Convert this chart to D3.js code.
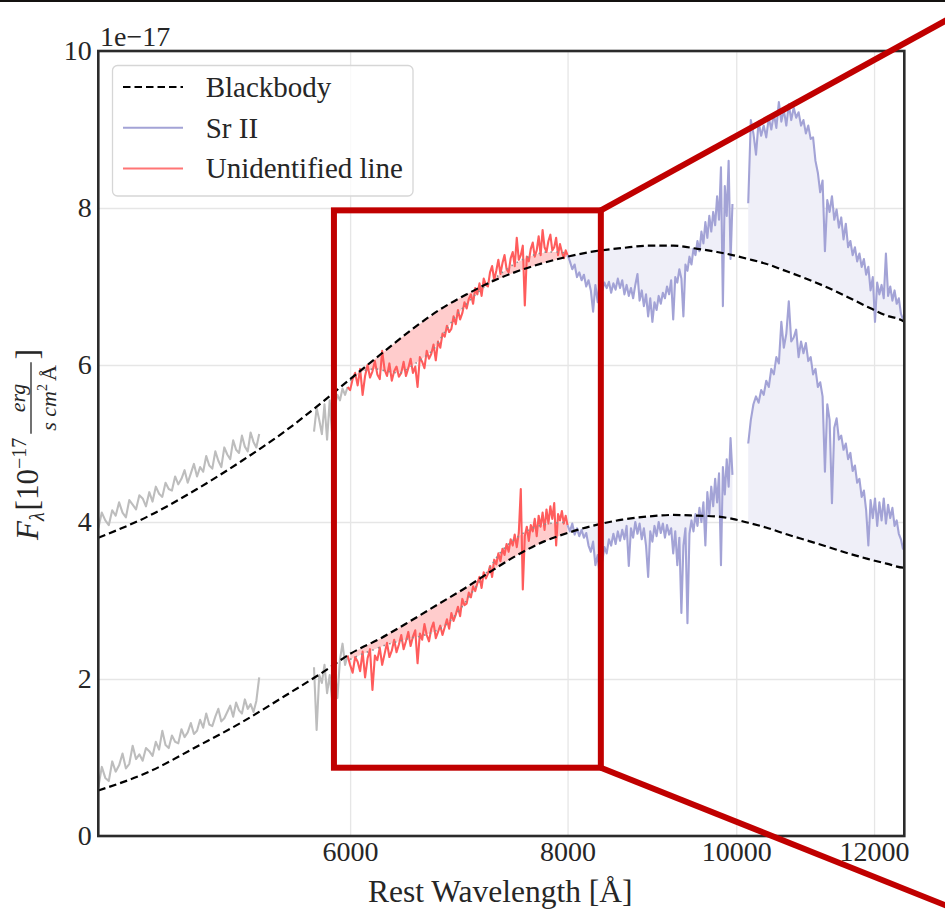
<!DOCTYPE html>
<html>
<head>
<meta charset="utf-8">
<script src="https://cdn.jsdelivr.net/npm/d3@7"></script>
<style>
  body { margin: 0; background: #fff; }
  svg text { font-family: "Liberation Serif", "Times New Roman", serif; fill: #262626; }
</style>
</head>
<body>
<div id="spec"></div>
<script>
// ---- data (flux in units of 1e-17) ----
const bbWave  = [4300,4600,4900,5200,5500,5800,6000,6250,6500,6750,7000,7250,7500,7750,8000,8300,8600,8900,9200,9500,9750,9950,10160,10400,10700,11000,11300,11600,11900,12200,12470,12490];
const bbUpper = [3.80,4.08,4.42,4.78,5.15,5.55,5.82,6.14,6.44,6.70,6.90,7.07,7.20,7.30,7.38,7.45,7.49,7.52,7.52,7.48,7.44,7.40,7.35,7.29,7.19,7.09,6.98,6.86,6.74,6.63,6.56,6.55];
const bbLower = [0.58,0.82,1.14,1.45,1.78,2.10,2.32,2.52,2.74,2.96,3.17,3.39,3.59,3.75,3.86,3.96,4.03,4.07,4.09,4.08,4.07,4.04,3.99,3.93,3.84,3.76,3.68,3.60,3.53,3.47,3.42,3.42];

// spectra are sampled on regular wavelength grids
const grayWaveA = d3.range(4300, 5330, 20);
const grayWaveB = d3.range(5720, 6000, 20);
const redWave   = d3.range(6000, 8000, 20);
const blueWaveA = d3.range(8000, 9951, 25);
const blueWaveB = d3.range(10160, 12471, 35);
const smoothWave = d3.range(6000, 8001, 100);

const grayUpperA = [3.92,4.12,4.02,3.96,4.15,4.08,4.25,4.12,4.06,4.28, 4.22,4.16,4.34,4.30,4.20,4.38,4.26,4.45,4.36,4.32,
  4.50,4.42,4.40,4.58,4.48,4.55,4.66,4.50,4.62,4.74, 4.58,4.70,4.64,4.84,4.72,4.68,4.90,4.78,4.70,4.95,
  4.86,4.80,5.04,4.92,4.88,5.10,4.96,4.90,5.14,5.02, 4.95,5.12];
const grayLowerA = [0.62,0.88,0.74,0.70,0.95,0.82,0.90,1.05,0.86,0.92, 1.15,0.98,1.04,0.96,1.12,1.08,1.02,1.20,1.10,1.34,
  1.16,1.12,1.28,1.20,1.18,1.36,1.26,1.32,1.44,1.30, 1.34,1.48,1.38,1.56,1.42,1.40,1.52,1.62,1.46,1.50,
  1.58,1.66,1.52,1.70,1.60,1.56,1.74,1.62,1.68,1.58, 1.72,2.02];
const grayUpperB = [5.15,5.45,5.30,5.12,5.50,5.05,5.55,5.10,5.48,5.62,5.55,5.70,5.62,5.72];
const grayLowerB = [2.15,1.35,2.05,1.95,2.18,1.82,2.05,1.72,2.12,1.76,2.25,2.45,2.18,2.30];

const redUpper = [5.68,5.82,5.90,5.74,5.95,5.62,5.86,6.00,5.84,5.92, 6.05,5.88,5.82,6.18,5.94,5.86,6.02,5.80,5.92,5.98,
  5.85,5.90,6.04,5.86,5.96,6.08,5.90,5.98,5.72,6.10, 6.04,5.96,6.18,6.08,6.14,6.26,6.06,6.30,6.22,6.40,
  6.36,6.50,6.42,6.46,6.62,6.52,6.70,6.58,6.66,6.80, 6.72,6.84,6.90,6.78,6.98,6.90,7.04,6.88,7.10,7.02,
  7.00,7.18,7.26,7.08,7.20,7.34,7.16,7.30,7.40,7.22, 7.18,7.36,7.44,7.26,7.62,7.34,7.40,7.52,6.76,7.38,
  7.32,7.48,7.56,7.38,7.46,7.64,7.40,7.72,7.50,7.44, 7.58,7.66,7.46,7.50,7.62,7.40,7.54,7.44,7.36,7.46];
const redLower = [2.18,2.08,2.28,2.22,2.10,2.35,2.02,2.26,2.38,1.86, 2.30,2.24,2.40,2.18,2.32,2.46,2.28,2.36,2.50,2.34,
  2.44,2.56,2.38,2.48,2.60,2.42,2.54,2.62,2.20,2.58, 2.50,2.70,2.56,2.48,2.64,2.72,2.52,2.60,2.68,2.56,
  2.66,2.76,2.64,2.84,2.74,2.82,2.92,2.80,3.02,2.94, 2.96,3.10,3.04,3.18,3.12,3.22,3.30,3.16,3.36,3.28,
  3.34,3.44,3.30,3.52,3.46,3.60,3.50,3.66,3.58,3.72, 3.62,3.78,3.70,3.84,3.68,3.86,4.42,3.14,3.82,3.94,
  3.76,3.96,3.88,4.04,3.82,4.08,3.94,4.12,3.90,4.16, 3.98,4.20,4.04,4.24,3.70,4.10,4.02,4.14,3.98,4.08];
const smoothUpper = [5.80,5.92,5.95,5.92,5.90,5.98,6.08,6.20,6.42,6.62,6.78,6.92,7.03,7.14,7.24,7.32,7.38,7.42,7.44,7.44,7.42];
const smoothLower = [2.25,2.32,2.38,2.44,2.48,2.52,2.55,2.60,2.68,2.82,3.00,3.20,3.38,3.58,3.72,3.82,3.90,3.95,3.98,3.99,4.00];

const blueUpperA = [7.40,7.32,7.22,7.28,7.12,7.18,7.08,7.15,7.00,7.08, 6.95,6.68,7.02,6.80,7.10,6.95,7.05,6.98,7.06,6.92,
  7.04,6.96,7.10,6.98,7.08,6.90,7.02,6.88,6.98,6.85, 7.02,7.16,6.82,6.95,6.75,6.90,6.62,6.85,6.55,6.80,
  6.70,6.88,6.78,6.92,6.85,7.00,6.90,7.08,6.58,7.12, 7.05,7.22,7.10,6.62,7.28,7.20,7.38,7.28,7.48,7.40,
  7.58,7.45,7.70,7.55,7.82,7.62,7.90,7.70,7.95,7.78, 8.15,7.85,8.52,6.75,8.28,7.90,8.60,7.35,8.05];
const blueLowerA = [3.96,3.88,3.98,3.84,3.92,3.82,3.90,3.80,3.86,3.70, 3.62,3.75,3.45,3.58,3.28,3.50,3.68,3.60,3.78,3.70,
  3.85,3.72,3.88,3.76,3.90,3.78,3.95,3.44,3.92,3.80, 4.00,3.85,3.98,3.78,3.92,3.70,3.30,3.88,3.75,3.95,
  3.82,4.00,3.86,3.98,3.80,3.96,3.84,3.92,3.60,3.88, 3.45,3.80,2.84,3.70,3.92,2.71,3.85,4.02,3.88,4.10,
  3.95,4.18,4.00,4.25,3.70,4.38,4.10,4.45,4.20,4.55, 4.25,4.62,3.45,4.70,4.35,4.80,4.45,5.07,4.60];
const blueUpperB = [8.06,9.12,8.95,8.68,9.10,8.92,9.05,8.90,9.15,9.00, 9.20,9.02,9.35,9.10,9.25,9.05,9.32,9.12,9.28,9.15,
  9.22,9.05,9.12,8.95,9.05,8.88,8.90,8.60,8.45,8.20, 8.35,7.45,8.10,7.95,8.15,7.85,7.98,7.75,7.88,7.60,
  7.80,7.50,7.58,7.40,7.50,7.32,7.42,7.25,7.35,7.15, 7.25,6.95,7.12,6.55,7.05,6.90,7.02,6.85,7.42,6.88,
  7.00,6.82,6.95,6.78,6.85,6.65,6.58];
const blueLowerB = [5.00,5.30,5.50,5.60,5.52,5.68,5.62,5.80,5.72,5.95, 5.88,6.10,6.02,6.55,6.22,6.40,6.81,6.30,6.35,6.45,
  6.10,6.30,6.15,6.28,6.05,6.10,5.88,5.95,5.72,5.78, 5.60,4.64,5.50,5.30,4.24,5.20,5.32,5.05,5.10,4.92,
  5.00,4.80,4.88,4.65,4.72,4.50,4.55,4.32,4.40,4.15, 3.70,4.28,4.05,4.30,3.95,4.25,4.02,4.30,3.98,4.22,
  4.05,4.18,3.95,4.02,3.85,3.78,3.65];

const xTicks = [6000, 8000, 10000, 12000];
const yTicks = [0, 2, 4, 6, 8, 10];
const legendLabels = ["Blackbody", "Sr II", "Unidentified line"];

// zoom box + connector ends (wavelength, flux)
const zoomBox = [5873, 8360, 0.87, 7.97];
const connectTop = [13300, 10.43];
const connectBottom = [13300, -0.915];

// ---- layout ----
const W = 945, H = 910;
const padL = 98.3, padR = 904.3, padT = 51, padB = 836;

const svg = d3.select("#spec").append("svg")
  .attr("width", W).attr("height", H);

const x = d3.scaleLog().domain([4300, 12490]).range([padL, padR]);
const y = d3.scaleLinear().domain([0, 10]).range([padB, padT]);

svg.append("rect").attr("x", 0).attr("y", 0).attr("width", W).attr("height", 2).attr("fill", "#141210");

// grid + tick labels
const gx = svg.append("g").attr("transform", `translate(0,${padB})`)
  .call(d3.axisBottom(x).tickValues(xTicks).tickFormat(d3.format("d"))
    .tickSize(-(padB - padT)).tickPadding(5));
const gy = svg.append("g").attr("transform", `translate(${padL},0)`)
  .call(d3.axisLeft(y).tickValues(yTicks).tickFormat(d3.format("d"))
    .tickSize(-(padR - padL)).tickPadding(6.5));
[gx, gy].forEach(g => {
  g.select(".domain").remove();
  g.selectAll(".tick line").attr("stroke", "#e6e6e6").attr("stroke-width", 1.3);
  g.selectAll(".tick text").style("font-size", "28px").attr("fill", "#262626");
});

const zip = (xs, ys) => xs.map((w, i) => [w, ys[i]]);
const line = d3.line().x(d => x(d[0])).y(d => y(d[1]));
const smoothLine = d3.line().x(d => x(d[0])).y(d => y(d[1])).curve(d3.curveMonotoneX);

// polygon between a curve and the blackbody over the same wavelength range
function between(pts, bbPts) {
  const lo = pts[0][0], hi = pts[pts.length - 1][0];
  const back = bbPts.filter(d => d[0] >= lo && d[0] <= hi).reverse();
  return line(pts.concat(back)) + "Z";
}

const spectra = [
  {bb: zip(bbWave, bbUpper), grayA: zip(grayWaveA, grayUpperA), grayB: zip(grayWaveB, grayUpperB),
   red: zip(redWave, redUpper), smooth: zip(smoothWave, smoothUpper),
   blueA: zip(blueWaveA, blueUpperA), blueB: zip(blueWaveB, blueUpperB)},
  {bb: zip(bbWave, bbLower), grayA: zip(grayWaveA, grayLowerA), grayB: zip(grayWaveB, grayLowerB),
   red: zip(redWave, redLower), smooth: zip(smoothWave, smoothLower),
   blueA: zip(blueWaveA, blueLowerA), blueB: zip(blueWaveB, blueLowerB)}
];

const plot = svg.append("g");

spectra.forEach(s => {
  plot.append("path").attr("d", between(s.smooth, s.bb)).attr("fill", "#ffcccc");
  plot.append("path").attr("d", between(s.blueA, s.bb)).attr("fill", "#efeff8");
  plot.append("path").attr("d", between(s.blueB, s.bb)).attr("fill", "#efeff8");
});

spectra.forEach(s => {
  [s.grayA, s.grayB].forEach(p =>
    plot.append("path").attr("d", line(p)).attr("fill", "none")
      .attr("stroke", "#bdbdbd").attr("stroke-width", 2.1).attr("stroke-linejoin", "round"));
  // join red onto the last grey sample
  plot.append("path").attr("d", line([s.grayB[s.grayB.length - 1]].concat(s.red, [s.blueA[0]])))
    .attr("fill", "none").attr("stroke", "#ff5c5c").attr("stroke-width", 2.1).attr("stroke-linejoin", "round");
  [s.blueA, s.blueB].forEach(p =>
    plot.append("path").attr("d", line(p)).attr("fill", "none")
      .attr("stroke", "#a3a3d6").attr("stroke-width", 2.1).attr("stroke-linejoin", "round"));
  plot.append("path").attr("d", smoothLine(s.smooth)).attr("fill", "none")
    .attr("stroke", "#8c8c8c").attr("stroke-width", 1.6).attr("stroke-dasharray", "1.5,4.5");
  plot.append("path").attr("d", smoothLine(s.bb)).attr("fill", "none")
    .attr("stroke", "#000").attr("stroke-width", 2.2).attr("stroke-dasharray", "7.5,4");
});

// frame
svg.append("rect").attr("x", padL).attr("y", padT)
  .attr("width", padR - padL).attr("height", padB - padT)
  .attr("fill", "none").attr("stroke", "#2b2b2b").attr("stroke-width", 2.6);

// offset text + axis label
svg.append("text").attr("x", 100).attr("y", 46).style("font-size", "28px").text("1e\u221217");
svg.append("text").attr("x", (padL + padR) / 2 - 1).attr("y", 902)
  .attr("text-anchor", "middle").style("font-size", "31.5px").text("Rest Wavelength [Å]");

// y label, laid out piece by piece in the rotated frame
const yl = svg.append("g").attr("transform", "translate(38,443) rotate(-90)");
let u = -97;
function piece(str, size, v, italic) {
  const t = yl.append("text").attr("x", u).attr("y", v)
    .style("font-size", size + "px").style("font-style", italic ? "italic" : "normal").text(str);
  u += t.node().getComputedTextLength();
  return t;
}
piece("F", 31, 0, true);
piece("λ", 20, 6, true);
u += 2;
piece("[10", 31, 0, false);
piece("\u221217", 20, -12, false);
u += 4;
const fracStart = u;
const num = yl.append("text").attr("y", -13).style("font-size", "22px").style("font-style", "italic")
  .attr("text-anchor", "middle").text("erg");
const den = yl.append("text").attr("y", 18).style("font-size", "22px");
den.append("tspan").style("font-style", "italic").text("s cm");
den.append("tspan").style("font-size", "14px").attr("dy", -9).text("2");
den.append("tspan").attr("dy", 9).attr("dx", 3).text("Å");
const wNum = num.node().getComputedTextLength();
const wDen = den.node().getComputedTextLength() + 3;
const fw = Math.max(wNum, wDen) + 6;
num.attr("x", fracStart + fw / 2);
den.attr("x", fracStart + (fw - wDen) / 2);
yl.append("line").attr("x1", fracStart).attr("x2", fracStart + fw)
  .attr("y1", -7).attr("y2", -7).attr("stroke", "#262626").attr("stroke-width", 1.3);
u = fracStart + fw + 3;
piece("]", 31, 0, false);

// legend
const lg = svg.append("g");
lg.append("rect").attr("x", 112.5).attr("y", 65.5).attr("width", 300.5).attr("height", 130.5)
  .attr("rx", 5).attr("fill", "#fff").attr("fill-opacity", 0.8)
  .attr("stroke", "#d6d6d6").attr("stroke-width", 1.3);
const legendStyle = [
  {stroke: "#000", dash: "7.5,4"},
  {stroke: "#a3a3d6", dash: null},
  {stroke: "#ff7575", dash: null}
];
legendLabels.forEach((lab, i) => {
  const cy = 87 + i * 40.7;
  lg.append("line").attr("x1", 123).attr("x2", 183).attr("y1", cy).attr("y2", cy)
    .attr("stroke", legendStyle[i].stroke).attr("stroke-width", 2)
    .attr("stroke-dasharray", legendStyle[i].dash);
  lg.append("text").attr("x", 205.7).attr("y", cy + 10).style("font-size", "29px").text(lab);
});

// zoom box with connector lines
const ann = svg.append("g").attr("fill", "none").attr("stroke", "#c00000").attr("stroke-width", 6);
ann.append("rect")
  .attr("x", x(zoomBox[0])).attr("y", y(zoomBox[3]))
  .attr("width", x(zoomBox[1]) - x(zoomBox[0])).attr("height", y(zoomBox[2]) - y(zoomBox[3]));
ann.append("line").attr("x1", x(zoomBox[1])).attr("y1", y(zoomBox[3]))
  .attr("x2", x(connectTop[0])).attr("y2", y(connectTop[1]));
ann.append("line").attr("x1", x(zoomBox[1])).attr("y1", y(zoomBox[2]))
  .attr("x2", x(connectBottom[0])).attr("y2", y(connectBottom[1]));
</script>
</body>
</html>
